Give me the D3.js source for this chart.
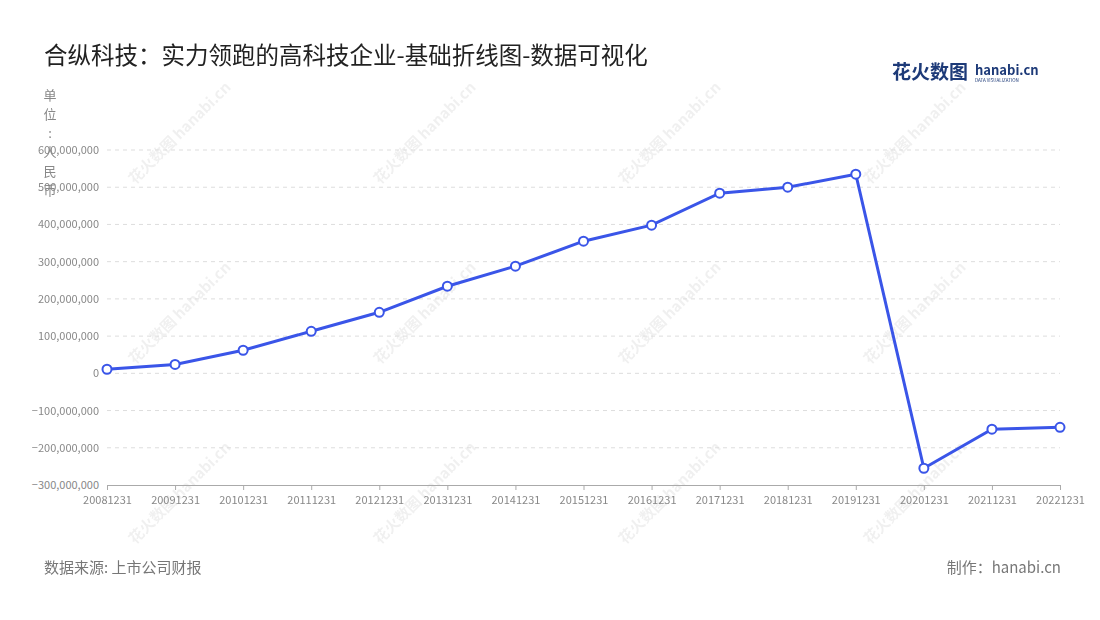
<!DOCTYPE html>
<html><head><meta charset="utf-8">
<script src="https://cdn.jsdelivr.net/npm/d3@7"></script>
<style>body{margin:0;background:#fff;font-family:"Noto Sans CJK SC","Noto Sans",sans-serif}</style>
</head><body><svg id="c" width="1100" height="620"></svg>
<script>
const categories=["20081231","20091231","20101231","20111231","20121231","20131231","20141231","20151231","20161231","20171231","20181231","20191231","20201231","20211231","20221231"];
const values=[11e6,24e6,62e6,113e6,164e6,234e6,288e6,355e6,398e6,484e6,500e6,535e6,-255e6,-150e6,-145e6];
const yTicks=[-300e6,-200e6,-100e6,0,100e6,200e6,300e6,400e6,500e6,600e6];
const svg=d3.select("#c");
const F='"Noto Sans CJK SC","Noto Sans",sans-serif';
const wm=svg.append("g").attr("opacity",0.06);
for(const wx of [135,380,625,870]) for(const wy of [185,365,545]){
  const g=wm.append("g").attr("transform",`translate(${wx},${wy}) rotate(-45)`);
  g.append("text").attr("font-size",15).attr("font-weight","bold").attr("fill","#000").attr("font-family",F).text("花火数图 hanabi.cn");
}
svg.append("text").attr("x",44).attr("y",64).attr("font-size",23.5).attr("fill","#222").attr("font-family",F).text("合纵科技：实力领跑的高科技企业-基础折线图-数据可视化");
svg.append("text").attr("x",892).attr("y",79).attr("font-size",19).attr("font-weight","bold").attr("fill","#1d3a78").attr("font-family",F).text("花火数图");
svg.append("text").attr("x",975).attr("y",75).attr("font-size",13).attr("font-weight","bold").attr("fill","#1d3a78").attr("font-family",F).text("hanabi.cn");
svg.append("text").attr("x",975).attr("y",82).attr("font-size",4.5).attr("fill","#1d3a78").attr("font-family",F).text("DATA VISUALIZATION");
const x=d3.scalePoint().domain(categories).range([107,1060]);
const y=d3.scaleLinear().domain([-300e6,600e6]).range([485,150]);
const grid=svg.append("g");
yTicks.forEach(t=>{ if(t!==-300e6) grid.append("line").attr("x1",107).attr("x2",1060).attr("y1",y(t)).attr("y2",y(t)).attr("stroke","#ddd").attr("stroke-dasharray","4,4");});
const ya=svg.append("g").attr("transform","translate(107,0)").call(d3.axisLeft(y).tickValues(yTicks).tickFormat(d3.format(",")).tickSize(0).tickPadding(8));
ya.select(".domain").remove();
ya.selectAll("text").attr("fill","#888").attr("font-size",11).attr("font-family",F);
const xa=svg.append("g").attr("transform","translate(0,485)").call(d3.axisBottom(x).tickSize(5).tickPadding(6));
xa.select(".domain").attr("stroke","#aaa");xa.selectAll("line").attr("stroke","#aaa");
xa.selectAll("text").attr("fill","#888").attr("font-size",11).attr("font-family",F);
"单位：人民币".split("").forEach((ch,i)=>svg.append("text").attr("x",50).attr("y",100+i*19).attr("text-anchor","middle").attr("font-size",13).attr("fill","#888").attr("font-family",F).text(ch==="："?":":ch));
svg.append("path").datum(values).attr("fill","none").attr("stroke","#3a55e8").attr("stroke-width",3)
 .attr("d",d3.line().x((d,i)=>x(categories[i])).y(d=>y(d)));
svg.selectAll("circle.p").data(values).join("circle").attr("cx",(d,i)=>x(categories[i])).attr("cy",d=>y(d)).attr("r",4.5).attr("fill","#fff").attr("stroke","#3a55e8").attr("stroke-width",2);
svg.append("text").attr("x",44).attr("y",573).attr("font-size",15).attr("fill","#777").attr("font-family",F).text("数据来源: 上市公司财报");
svg.append("text").attr("x",1061).attr("y",573).attr("text-anchor","end").attr("font-size",15).attr("fill","#777").attr("font-family",F).text("制作：hanabi.cn");
</script></body></html>
